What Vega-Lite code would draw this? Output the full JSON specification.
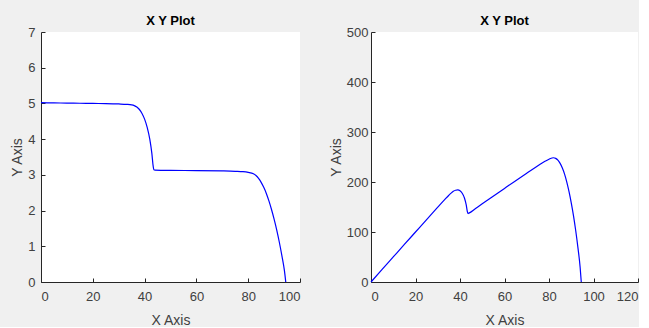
{
  "$schema": "https://vega.github.io/schema/vega-lite/v6.json",
  "background": "#f0f0f0",
  "padding": {"left": 10, "top": 15, "right": 0, "bottom": 0},
  "bounds": "flush",
  "spacing": 71,
  "datasets": {
    "pv": [
      {"V": 0, "I": 5.02, "P": 0},
      {"V": 5, "I": 5.015, "P": 25.1},
      {"V": 10, "I": 5.01, "P": 50.1},
      {"V": 15, "I": 5.005, "P": 75.1},
      {"V": 20, "I": 5.0, "P": 100},
      {"V": 25, "I": 4.995, "P": 124.9},
      {"V": 30, "I": 4.985, "P": 149.6},
      {"V": 33, "I": 4.975, "P": 164.2},
      {"V": 35, "I": 4.96, "P": 173.6},
      {"V": 36, "I": 4.94, "P": 177.8},
      {"V": 37, "I": 4.9, "P": 181.3},
      {"V": 38, "I": 4.83, "P": 183.5},
      {"V": 39, "I": 4.72, "P": 184.1},
      {"V": 40, "I": 4.56, "P": 182.4},
      {"V": 41, "I": 4.33, "P": 177.5},
      {"V": 42, "I": 4.0, "P": 168},
      {"V": 42.8, "I": 3.6, "P": 154.1},
      {"V": 43.3, "I": 3.25, "P": 140.7},
      {"V": 43.6, "I": 3.14, "P": 136.9},
      {"V": 44, "I": 3.13, "P": 137.7},
      {"V": 47, "I": 3.127, "P": 147},
      {"V": 50, "I": 3.125, "P": 156.3},
      {"V": 60, "I": 3.12, "P": 187.2},
      {"V": 70, "I": 3.11, "P": 217.7},
      {"V": 75, "I": 3.1, "P": 232.5},
      {"V": 78, "I": 3.09, "P": 241},
      {"V": 80, "I": 3.07, "P": 245.6},
      {"V": 82, "I": 3.03, "P": 248.5},
      {"V": 83, "I": 2.98, "P": 247.3},
      {"V": 84, "I": 2.9, "P": 243.6},
      {"V": 85, "I": 2.79, "P": 237.2},
      {"V": 86, "I": 2.65, "P": 227.9},
      {"V": 87, "I": 2.48, "P": 215.8},
      {"V": 88, "I": 2.27, "P": 199.8},
      {"V": 89, "I": 2.03, "P": 180.7},
      {"V": 90, "I": 1.76, "P": 158.4},
      {"V": 91, "I": 1.46, "P": 132.9},
      {"V": 92, "I": 1.12, "P": 103},
      {"V": 93, "I": 0.74, "P": 68.8},
      {"V": 94, "I": 0.31, "P": 29.1},
      {"V": 94.5, "I": 0, "P": 0}
    ]
  },
  "config": {
    "font": "Liberation Sans",
    "view": {"fill": "white", "stroke": null},
    "axis": {
      "grid": false,
      "domainColor": "#262626",
      "tickColor": "#262626",
      "tickSize": -4,
      "labelColor": "#404040",
      "labelFont": "Liberation Sans",
      "labelFontSize": 13,
      "titleColor": "#404040",
      "titleFont": "Liberation Sans",
      "titleFontSize": 14,
      "titleFontWeight": "normal"
    },
    "axisX": {"labelPadding": 12, "titlePadding": 10},
    "axisY": {"labelPadding": 10, "titlePadding": 3},
    "title": {"font": "Liberation Sans", "fontSize": 13, "fontWeight": "bold", "color": "#000000", "offset": -2}
  },
  "hconcat": [
    {
      "width": 259,
      "height": 250,
      "title": "X Y Plot",
      "data": {"name": "pv"},
      "mark": {"type": "line", "color": "#0000ff", "strokeWidth": 1.2, "interpolate": "monotone"},
      "encoding": {
        "x": {"field": "V", "type": "quantitative", "title": "X Axis", "scale": {"domain": [0, 100], "nice": false}, "axis": {"values": [0, 20, 40, 60, 80, 100]}},
        "y": {"field": "I", "type": "quantitative", "title": "Y Axis", "scale": {"domain": [0, 7], "nice": false}, "axis": {"values": [0, 1, 2, 3, 4, 5, 6, 7]}}
      }
    },
    {
      "width": 267,
      "height": 250,
      "title": "X Y Plot",
      "data": {"name": "pv"},
      "mark": {"type": "line", "color": "#0000ff", "strokeWidth": 1.2, "interpolate": "monotone"},
      "encoding": {
        "x": {"field": "V", "type": "quantitative", "title": "X Axis", "scale": {"domain": [0, 120], "nice": false}, "axis": {"values": [0, 20, 40, 60, 80, 100, 120]}},
        "y": {"field": "P", "type": "quantitative", "title": "Y Axis", "scale": {"domain": [0, 500], "nice": false}, "axis": {"values": [0, 100, 200, 300, 400, 500], "labelPadding": 7}}
      }
    }
  ]
}
